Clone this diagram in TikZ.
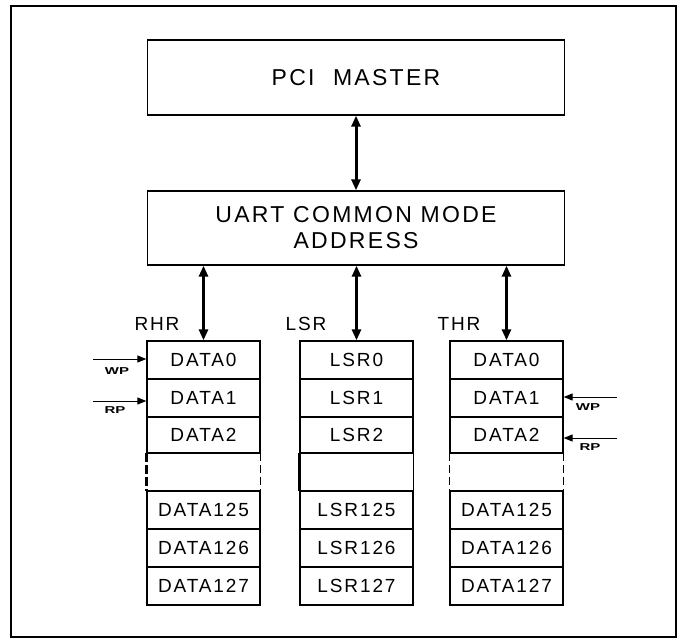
\documentclass[tikz,border=0pt]{standalone}
\usepackage{fontspec}
\setmainfont{Liberation Sans}
\newfontfamily\spacedfont[LetterSpace=10]{Liberation Sans}
\usetikzlibrary{arrows.meta,calc}
\tikzset{
  box/.style={draw,line width=1.3pt,inner sep=0pt},
  cell/.style={draw,line width=1.3pt,minimum width=113pt,minimum height=38pt,inner sep=0pt,font=\spacedfont\fontsize{19}{19}\selectfont},
  gapcell/.style={minimum width=113pt,minimum height=38pt,inner sep=0pt},
  bus/.style={line width=3pt,{Triangle[length=11pt,width=9pt]}-{Triangle[length=11pt,width=9pt]}},
  ptr/.style={line width=1pt,-{Triangle[length=9pt,width=7pt]}},
  tag/.style={font=\spacedfont\fontsize{19}{19}\selectfont,inner sep=0pt},
  small/.style={font=\fontsize{10}{10}\selectfont\bfseries,inner sep=0pt,xscale=1.5},
}
\begin{document}
\begin{tikzpicture}[x=1pt,y=-1pt]
\useasboundingbox (0,0) rectangle (685,642);
\draw[line width=2pt] (11,6) rectangle (676,637);
\node[box,minimum width=417pt,minimum height=75pt,font=\spacedfont\fontsize{23}{23}\selectfont] (pci) at (356,77.5) {PCI\hspace{0.8em}MASTER};
\node[box,minimum width=417pt,minimum height=74pt,font=\spacedfont\fontsize{23}{26}\selectfont,align=center] (uart) at (356,228) {UART COMMON MODE\\ADDRESS};
\draw[bus] (pci.south) -- (uart.north);
% columns
\foreach \n/\x/\p/\q in {r/203.5/DATA/DATA, l/356.5/LSR/LSR, t/506.5/DATA/DATA}{
  \node[cell] (\n0) at (\x,360) {\p0};
  \node[cell] (\n1) at (\x,398) {\p1};
  \node[cell,minimum height=36pt] (\n2) at (\x,435) {\p2};
  \node[gapcell] (\n3) at (\x,472) {};
  \node[cell] (\n4) at (\x,510) {\q125};
  \node[cell] (\n5) at (\x,548) {\q126};
  \node[cell] (\n6) at (\x,586) {\q127};
}
% gap rows sides
\draw[line width=3pt,dash pattern=on 9pt off 3pt] (r3.north west) -- (r3.south west);
\draw[line width=1pt,dash pattern=on 8pt off 4pt] (r3.north east) -- (r3.south east);
\draw[line width=3pt] (l3.north west) -- (l3.south west);
\draw[line width=1.2pt] (l3.north east) -- (l3.south east);
\draw[line width=1pt,dash pattern=on 8pt off 4pt] (t3.north west) -- (t3.south west);
\draw[line width=1pt,dash pattern=on 8pt off 4pt] (t3.north east) -- (t3.south east);
% bus arrows
\draw[bus] (uart.south -| r0.north) -- (r0.north);
\draw[bus] (uart.south -| l0.north) -- (l0.north);
\draw[bus] (uart.south -| t0.north) -- (t0.north);
% labels
\node[tag] (lr) at (157,324) {RHR};
\node[tag] (ll) at (306,324) {LSR};
\node[tag] (lt) at (459,324) {THR};
% pointers
\coordinate (wpa) at (93,359);
\coordinate (rpa) at (93,401);
\draw[ptr] (wpa) -- (wpa -| r0.west);
\draw[ptr] (rpa) -- (rpa -| r1.west);
\node[small] (wpl) at (117,371) {WP};
\node[small] (rpl) at (115,410) {RP};
\coordinate (wpb) at (617,397);
\coordinate (rpb) at (617,438);
\draw[ptr] (wpb) -- (wpb -| t1.east);
\draw[ptr] (rpb) -- (rpb -| t2.east);
\node[small] (wpr) at (588,407) {WP};
\node[small] (rpr) at (590,447) {RP};
\end{tikzpicture}
\end{document}
